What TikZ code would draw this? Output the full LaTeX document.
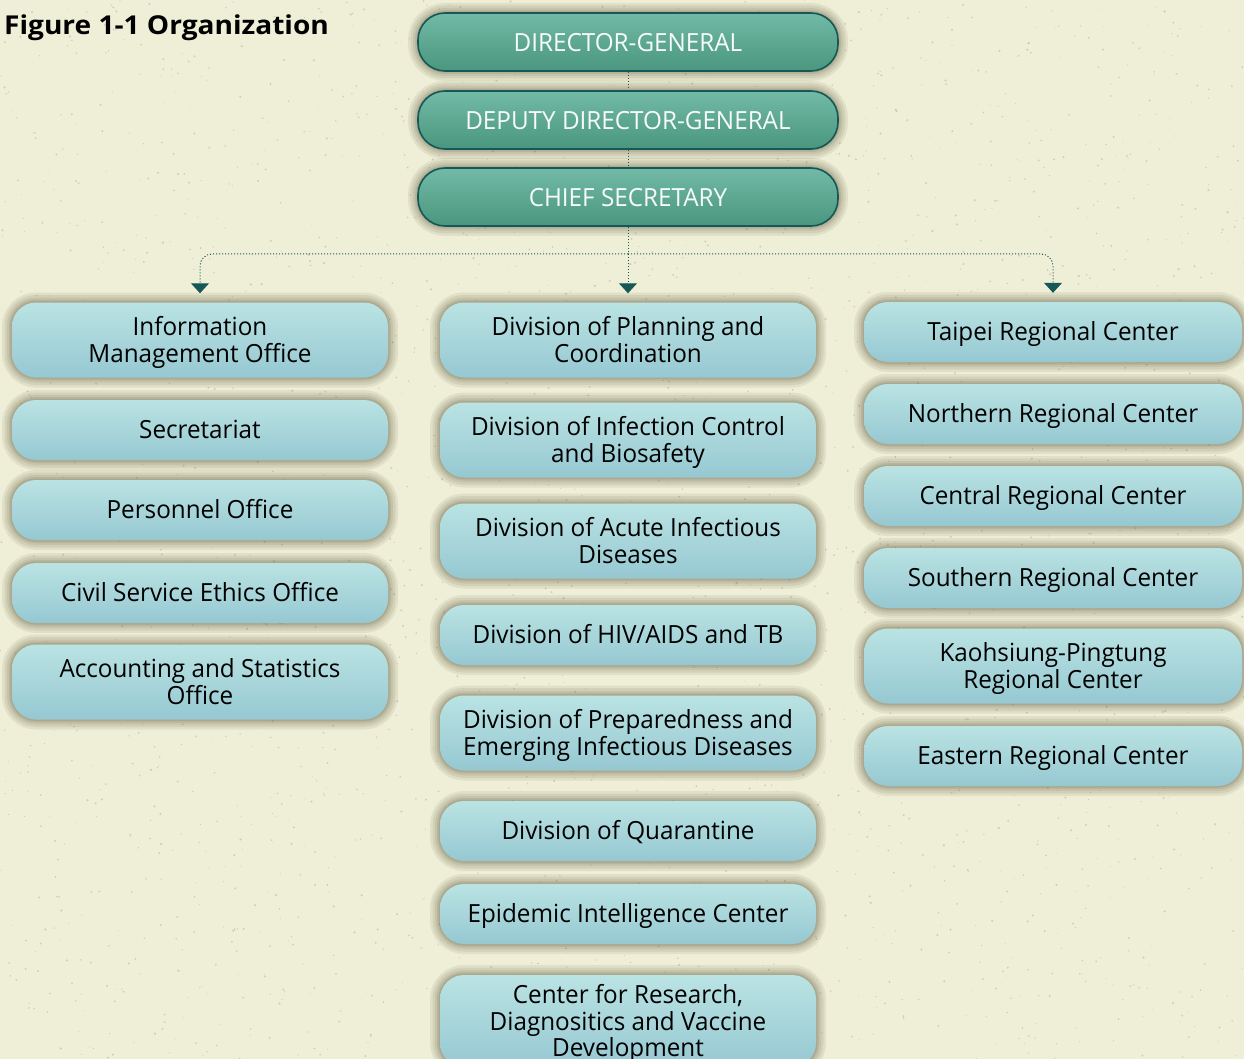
\documentclass[tikz,border=0pt]{standalone}
\usepackage{fontspec}
\setmainfont[FakeStretch=0.97]{Open Sans}
\newfontfamily\titlefont[FakeStretch=1.08]{Open Sans}
\usetikzlibrary{arrows.meta}
\newcommand\mytopstrut{\rule{0pt}{24.5pt}}
\newcommand\mybotstrut{\rule[-6.5pt]{0pt}{6.5pt}}
\definecolor{bgcol}{RGB}{239,239,215}
\definecolor{speck}{RGB}{170,165,140}
\definecolor{tealdark}{RGB}{22,88,88}
\definecolor{topA}{RGB}{114,186,166}
\definecolor{topB}{RGB}{74,150,126}
\definecolor{lboxA}{RGB}{186,227,227}
\definecolor{lboxB}{RGB}{150,200,210}
\definecolor{shadowcol}{RGB}{95,88,60}
\tikzset{
  myshadow/.style={
    preaction={draw=shadowcol, draw opacity=0.10, line width=20pt},
    preaction={draw=shadowcol, draw opacity=0.10, line width=15pt},
    preaction={draw=shadowcol, draw opacity=0.11, line width=10pt},
    preaction={draw=shadowcol, draw opacity=0.13, line width=6pt},
    preaction={draw=shadowcol, draw opacity=0.13, line width=3pt}},
  topbox/.style={rectangle, rounded corners=27pt, minimum width=420pt, minimum height=58pt,
    myshadow, draw=tealdark, line width=1.6pt, top color=topA, bottom color=topB, text=white!95!topA,
    font=\fontsize{25}{26.7}\selectfont, inner sep=0pt, text height=24.5pt, text depth=6pt},
  lboxbase/.style={rectangle, rounded corners=24pt, minimum width=376pt, minimum height=60pt,
    myshadow, top color=lboxA, bottom color=lboxB, text=black, align=center,
    font=\fontsize{25}{26.7}\selectfont, inner sep=0pt},
  lbox/.style={lboxbase, text height=24pt, text depth=6.5pt},
  tall/.style={lboxbase, minimum height=75pt},
  wide/.style={minimum width=378pt},
  conn/.style={draw=tealdark, dotted, line width=1pt},
  tipd/.style={-{Triangle[width=18pt,length=10pt]}, tealdark},
}
\begin{document}
\begin{tikzpicture}[x=1pt,y=-1pt]
\useasboundingbox (0,0) rectangle (1244,1059);
\fill[bgcol] (0,0) rectangle (1244,1059);
\clip (0,0) rectangle (1244,1059);
% background speckle texture
\pgfmathsetseed{7}
\foreach \i in {1,...,2600}{
  \fill[speck, opacity=0.45] ({1244*rnd},{1059*rnd}) circle ({0.4+0.8*rnd});
}
% title
\node[anchor=base west, inner sep=0pt, font=\titlefont\fontsize{26}{28}\selectfont\bfseries] (title) at (4,35) {Figure 1-1 Organization};
% top
\node[topbox] (dg) at (628,42) {DIRECTOR-GENERAL};
\node[topbox] (ddg) at (628,120) {DEPUTY DIRECTOR-GENERAL};
\node[topbox] (cs) at (628,197) {CHIEF SECRETARY};
% left
\node[tall] (imo) at (200,340) {\mytopstrut Information\\Management Office\mybotstrut};
\node[lbox] (sec) at (200,430) {Secretariat};
\node[lbox] (per) at (200,510) {Personnel Office};
\node[lbox] (eth) at (200,593) {Civil Service Ethics Office};
\node[tall] (acc) at (200,682) {\mytopstrut Accounting and Statistics\\Office\mybotstrut};
% middle
\node[tall] (plan) at (628,340) {\mytopstrut Division of Planning and\\Coordination\mybotstrut};
\node[tall] (inf) at (628,440) {\mytopstrut Division of Infection Control\\and Biosafety\mybotstrut};
\node[tall] (acu) at (628,541) {\mytopstrut Division of Acute Infectious\\Diseases\mybotstrut};
\node[lbox] (hiv) at (628,635) {Division of HIV/AIDS and TB};
\node[tall] (prep) at (628,733) {\mytopstrut Division of Preparedness and\\Emerging Infectious Diseases\mybotstrut};
\node[lbox] (qua) at (628,831) {Division of Quarantine};
\node[lbox] (epi) at (628,914) {Epidemic Intelligence Center};
\node[tall, minimum height=92pt] (crd) at (628,1021) {\mytopstrut Center for Research,\\Diagnositics and Vaccine\\Development\mybotstrut};
% right
\node[lbox,wide] (tpe) at (1053,332) {Taipei Regional Center};
\node[lbox,wide] (nor) at (1053,414) {Northern Regional Center};
\node[lbox,wide] (cen) at (1053,496) {Central Regional Center};
\node[lbox,wide] (sou) at (1053,578) {Southern Regional Center};
\node[tall,wide] (kao) at (1053,666) {\mytopstrut Kaohsiung-Pingtung\\Regional Center\mybotstrut};
\node[lbox,wide] (eas) at (1053,756) {Eastern Regional Center};
% connectors
\draw[conn] (dg.south) -- (ddg.north);
\draw[conn] (ddg.south) -- (cs.north);
\coordinate (bus) at (628,254);
\draw[conn] (cs.south) -- (bus);
\draw[conn, tipd] (bus) -- ([yshift=9pt]plan.north);
\draw[conn, tipd, rounded corners=12pt] (bus) -| ([yshift=9pt]imo.north);
\draw[conn, tipd, rounded corners=12pt] (bus) -| ([yshift=9pt]tpe.north);
\end{tikzpicture}
\end{document}
